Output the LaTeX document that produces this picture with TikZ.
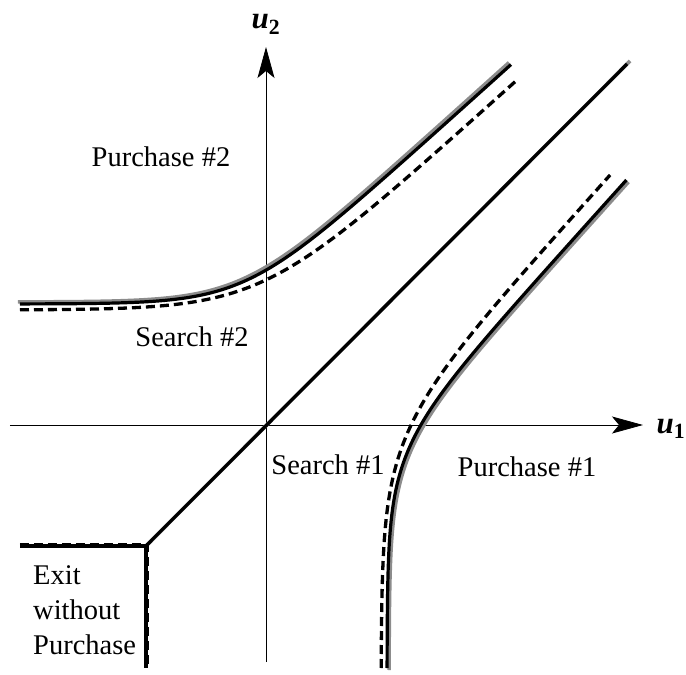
\documentclass[tikz,border=0pt]{standalone}
\usepackage{fontspec}
\setmainfont{Liberation Serif}
\usetikzlibrary{arrows.meta, positioning, calc}
\definecolor{halogray}{RGB}{140, 140, 140}
\tikzset{
  axisline/.style={line width=0.8pt, -{Stealth[length=31pt, width=17pt, inset=7pt]}},
  bound/.style={line width=3.2pt},
  halo/.style={line width=3.6pt, draw=halogray},
  altbound/.style={line width=3.3pt, dash pattern=on 9pt off 5pt},
  region/.style={font=\fontsize{28.5}{35}\selectfont, inner sep=0pt},
  axislabel/.style={font=\fontsize{31}{35}\selectfont, inner sep=0pt},
  declare function={fa(\t)=121+33.3*ln(1+exp((\t+21)/37));
                    fb(\t)=115+40.5*ln(1+exp((\t+4.4)/45));}
}

\begin{document}
\begin{tikzpicture}[x=1pt, y=1pt]
    \useasboundingbox (-266,-250) rectangle (420,425);

    % axes
    \coordinate (o) at (0,0);
    \coordinate (xs) at (-256,0);
    \coordinate (xe) at (377,0);
    \coordinate (ys) at (0,-237);
    \coordinate (ye) at (0,378);
    \draw[axisline] (xs) -- (xe);
    \draw[axisline] (ys) -- (ye);
    \node[axislabel] (u1lab) at (405,-4) {\textbf{\textit{u}}\textsubscript{\textbf{1}}};
    \node[axislabel] (u2lab) at (0,401) {\textbf{\textit{u}}\textsubscript{\textbf{2}}};

    % exit corner and diagonal
    \coordinate (corner) at (-120,-121);
    \coordinate (dtop) at (361,361);
    \coordinate (dtopg) at (364,364);
    \draw[halo] (corner) -- (dtopg);
    \draw[bound] (-246,-121) -- (corner) -- (-120,-243);
    \draw[altbound] (-246,-119.5) -- (-118.5,-119.5) -- (-118.5,-243);
    \draw[bound] (corner) -- (dtop);

    % upper boundary
    \draw[halo] plot[domain=-246:245, samples=120] ({\x-2},{fa(\x)+2});
    \draw[bound] plot[domain=-246:245, samples=120] (\x,{fa(\x)});
    \draw[altbound] plot[domain=-246:250, samples=120] (\x,{fb(\x)});

    % lower boundary
    \draw[halo] plot[domain=-243:245, samples=120] ({fa(\x)+2},{\x-2});
    \draw[bound] plot[domain=-243:245, samples=120] ({fa(\x)},\x);
    \draw[altbound] plot[domain=-243:250, samples=120] ({fb(\x)},\x);

    % regions
    \node[region] (pur2) at (-105,268) {Purchase \#2};
    \node[region] (srch2) at (-74,88) {Search \#2};
    \node[region] (srch1) at (62,-40) {Search \#1};
    \node[region] (pur1) at (261,-42) {Purchase \#1};
    \node[region, align=left, anchor=west] (exit) at (-233,-185) {Exit\\without\\Purchase};
\end{tikzpicture}
\end{document}
